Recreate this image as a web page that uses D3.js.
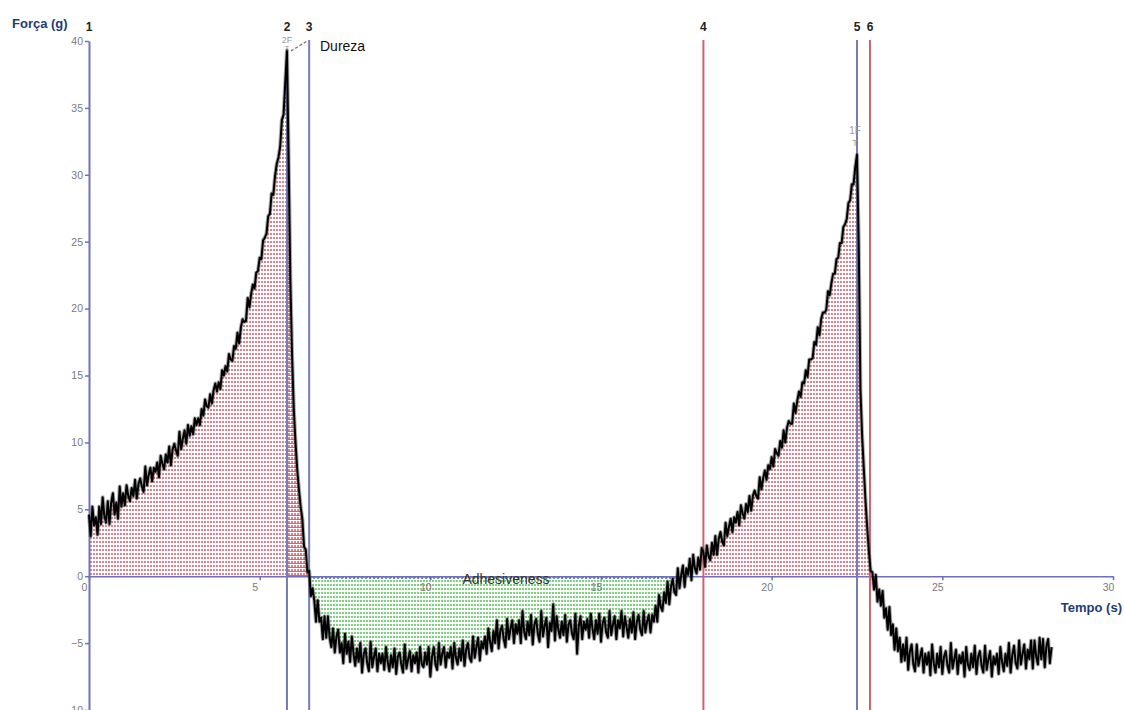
<!DOCTYPE html>
<html><head><meta charset="utf-8">
<script src="https://cdn.jsdelivr.net/npm/d3@7"></script>
<style>
html,body{margin:0;padding:0;background:#fff;}
svg{display:block;font-family:"Liberation Sans",Arial,sans-serif;}
</style></head>
<body>
<svg id="chart" width="1124" height="710"></svg>
<script>
// ---- data ----
const sampleStep = 0.05; // s between samples
const segmentStarts = [0, 6.6, 18.0, 22.55];
// first compression + drop (t = 0.00 .. 6.55)
const forceCompression1 = [
  4.6,3.0,5.2,3.8,4.4,3.1,5.2,3.9,5.9,4.5,
  4.0,5.6,3.9,5.5,6.2,4.6,5.5,4.3,6.7,5.2,
  6.2,5.3,6.8,6.0,5.6,6.6,6.0,7.2,5.8,6.9,
  7.3,6.7,6.3,8.2,6.8,7.6,8.1,7.1,8.1,7.8,
  8.5,7.4,9.0,8.4,8.0,9.1,8.5,9.7,8.3,9.5,
  9.9,9.4,9.0,10.8,9.5,10.3,10.9,9.9,11.3,10.5,
  11.2,10.6,11.8,11.3,11.8,11.3,12.5,12.0,13.2,12.7,
  12.6,13.6,12.9,13.9,14.4,13.8,14.5,14.0,15.4,15.0,
  15.7,15.3,16.6,16.2,16.1,17.2,17.0,18.2,17.4,18.6,
  19.2,19.0,19.1,20.8,20.1,21.1,21.8,21.5,22.7,22.8,
  23.8,23.7,25.1,25.3,25.6,26.9,27.1,28.6,28.5,29.9,
  30.8,31.3,32.1,34.1,34.5,36.9,39.3,
  31.0,22.0,16.5,12.5,10.0,8.0,6.5,5.2,4.3,2.2,2.0,0.3,0.4,-1.5,-0.9];
// adhesion phase (t = 6.60 .. 17.95)
const forceAdhesion = [
  -1.8,-3.4,-1.8,-3.4,-3.1,-4.7,-3.0,-4.6,-3.0,-4.6,
  -5.3,-3.9,-5.7,-4.5,-4.0,-5.7,-5.0,-6.5,-4.3,-5.8,
  -4.9,-6.4,-4.5,-5.8,-6.7,-5.4,-6.4,-5.0,-7.2,-5.8,
  -5.4,-6.5,-7.1,-4.9,-6.8,-6.0,-5.4,-7.1,-5.8,-6.5,
  -5.8,-7.0,-5.3,-6.4,-7.1,-5.9,-6.8,-5.4,-7.3,-6.0,
  -5.7,-6.6,-7.2,-5.1,-6.9,-6.2,-5.6,-7.1,-5.9,-6.5,
  -5.7,-7.2,-5.3,-6.6,-6.8,-5.7,-6.6,-5.3,-7.5,-6.0,
  -5.3,-6.6,-7.0,-5.0,-6.6,-5.8,-5.3,-6.8,-5.7,-6.1,
  -5.3,-6.9,-5.0,-6.1,-6.6,-5.4,-6.3,-4.8,-6.7,-5.5,
  -5.0,-6.1,-6.4,-4.5,-6.1,-5.3,-4.6,-6.3,-4.9,-5.4,
  -4.5,-5.8,-3.9,-4.9,-5.6,-4.1,-5.0,-3.3,-5.4,-4.1,
  -3.7,-4.7,-5.3,-3.2,-4.7,-3.9,-3.3,-5.0,-3.6,-4.3,
  -3.3,-5.0,-2.6,-4.2,-4.7,-3.4,-4.4,-2.9,-5.1,-3.6,
  -3.2,-4.3,-4.9,-2.6,-4.5,-3.7,-3.1,-5.3,-3.5,-4.1,
  -2.1,-4.8,-3.0,-4.0,-4.6,-3.4,-4.4,-2.9,-4.9,-3.6,
  -3.3,-4.3,-4.7,-2.8,-5.8,-3.7,-3.0,-4.7,-3.4,-4.0,
  -3.2,-4.6,-2.8,-3.9,-4.7,-3.3,-4.3,-2.8,-4.9,-3.5,
  -3.1,-4.2,-4.6,-2.6,-4.4,-3.6,-3.0,-4.7,-3.3,-3.9,
  -2.6,-4.5,-3.0,-3.8,-4.6,-3.2,-4.2,-2.7,-4.7,-3.4,
  -2.9,-4.0,-4.4,-2.6,-4.2,-3.4,-2.9,-4.2,-2.9,-3.4,
  -2.2,-3.4,-1.4,-2.3,-2.6,-1.2,-2.0,-0.4,-2.1,-0.8,
  -0.2,-1.2,-1.4,0.6,-0.9,0.1,0.8,-0.8,0.6,0.1,
  1.3,-0.3,1.6,0.6,0.2,1.4,0.5,2.1];
// second compression (t = 18.00 .. 22.50)
const forceCompression2 = [
  1.8,0.7,2.3,1.5,1.2,2.5,1.6,3.0,1.6,2.8,
  3.3,2.6,2.3,4.0,3.0,3.7,4.3,3.3,4.4,4.0,
  4.8,3.8,5.3,4.7,4.3,5.4,4.8,6.0,4.9,6.0,
  6.4,6.0,5.8,7.4,6.5,7.3,7.9,7.2,8.3,8.0,
  8.9,8.2,9.5,9.2,9.0,10.1,9.6,10.9,10.0,11.1,
  11.6,11.4,11.4,12.9,12.2,13.1,13.8,13.4,14.5,14.4,
  15.4,14.9,16.2,16.2,16.3,17.5,17.3,18.6,18.0,19.2,
  19.7,19.7,19.9,21.3,21.0,21.9,22.6,22.6,23.7,23.8,
  24.9,24.9,26.1,26.3,26.7,27.9,28.1,29.3,29.3,30.6,
  31.5];
// drop + second adhesion (t = 22.55 .. 28.20)
const forceDecay = [
  25.0,14.0,10.5,8.0,5.6,3.6,1.8,0.4,0.3,-1.0,
  0.1,-1.9,-1.0,-2.2,-1.1,-3.1,-2.4,-4.0,-2.3,-4.4,
  -3.6,-5.5,-3.9,-5.6,-4.6,-6.4,-5.1,-6.3,-4.6,-7.0,
  -5.6,-5.1,-6.6,-7.1,-5.1,-6.7,-6.0,-5.4,-7.2,-5.8,
  -6.6,-5.7,-7.4,-5.1,-6.5,-7.2,-5.8,-6.8,-5.3,-7.3,
  -6.0,-5.6,-6.7,-7.2,-5.0,-6.9,-6.2,-5.5,-7.3,-5.9,
  -6.5,-5.7,-7.5,-5.3,-6.6,-7.0,-5.8,-6.8,-5.2,-7.3,
  -6.0,-5.6,-6.7,-7.2,-5.2,-7.0,-6.2,-5.6,-7.5,-6.0,
  -6.6,-5.8,-7.3,-5.3,-6.4,-7.1,-5.8,-6.7,-5.0,-7.2,
  -5.9,-5.2,-6.5,-6.9,-4.8,-6.6,-5.8,-5.1,-6.9,-5.5,
  -6.2,-4.8,-6.9,-4.8,-6.0,-6.6,-4.6,-6.2,-4.7,-6.8,
  -5.2,-4.7,-6.5,-5.3];

const xTicks = [0,5,10,15,20,25,30];
const yTicks = [-10,-5,0,5,10,15,20,25,30,35,40];
const markerLabels = ["1","2","3","4","5","6"];
const markerTimes = [0, 5.8, 6.45, 18.0, 22.5, 22.88];
const markerKinds = ["blue","blue","blue","red","blue","red"];
const hardnessPeak = {label:"2F", t:5.8};
const secondPeak = {label:"1F", t:22.5, f:31.5};
const redRegions = [[0,6.45],[18.0,22.9]];
const greenRegion = [6.45,17.95];
const adhesionTopEnd = 17.2;

// ---- build series ----
const segments = [forceCompression1, forceAdhesion, forceCompression2, forceDecay];
const data = [];
segments.forEach((seg,si)=>seg.forEach((v,i)=>data.push({t:+(segmentStarts[si]+i*sampleStep).toFixed(3), f:v})));

// ---- scales ----
const svg = d3.select("#chart");
const x = d3.scaleLinear().domain([0,30]).range([89,1113]);
const y = d3.scaleLinear().domain([-10,40]).range([710,41]);

const defs = svg.append("defs");
const rp = defs.append("pattern").attr("id","redPat").attr("patternUnits","userSpaceOnUse").attr("width",3).attr("height",4);
rp.append("rect").attr("x",0).attr("y",1).attr("width",2).attr("height",2).attr("fill","#e3808d");
const rp2 = defs.append("pattern").attr("id","redPat2").attr("patternUnits","userSpaceOnUse").attr("width",3).attr("height",4);
rp2.append("rect").attr("x",0).attr("y",3).attr("width",3).attr("height",1).attr("fill","#d83a4a");
const gp = defs.append("pattern").attr("id","greenPat").attr("patternUnits","userSpaceOnUse").attr("width",3).attr("height",4);
gp.append("rect").attr("x",0).attr("y",0).attr("width",2).attr("height",2).attr("fill","#7cd27c");

// ---- fills ----
const areaPos = d3.area().x(d=>x(d.t)).y0(y(0)).y1(d=>y(Math.max(d.f,0)));
const areaNeg = d3.area().x(d=>x(d.t)).y0(y(0)).y1(d=>y(Math.min(d.f,0)));
redRegions.forEach(([a,b])=>{
  const pts = data.filter(d=>d.t>=a-1e-6 && d.t<=b+1e-6);
  svg.append("path").datum(pts).attr("d",areaPos).attr("fill","url(#redPat)");
});
// denser strip between markers 2 and 3
svg.append("path").datum(data.filter(d=>d.t>=markerTimes[1]-1e-6 && d.t<=markerTimes[2]+1e-6)).attr("d",areaPos).attr("fill","url(#redPat2)").attr("opacity",0.8);
svg.append("path").datum(data.filter(d=>d.t>=greenRegion[0] && d.t<=greenRegion[1])).attr("d",areaNeg).attr("fill","url(#greenPat)");

// ---- axes ----
const yAxis = svg.append("g").attr("transform",`translate(${x(0)},0)`)
  .call(d3.axisLeft(y).tickValues(yTicks).tickSize(4).tickSizeOuter(0).tickPadding(2));
yAxis.select(".domain").attr("stroke","#7272b6").attr("stroke-width",2);
yAxis.selectAll(".tick line").attr("stroke","#7272b6").attr("stroke-width",1.5);
yAxis.selectAll(".tick text").attr("fill","#7a7a7a").attr("font-size",10.5).attr("font-family","Liberation Sans, Arial");

const xAxis = svg.append("g").attr("transform",`translate(0,${y(0)})`)
  .call(d3.axisBottom(x).tickValues(xTicks).tickSize(4).tickSizeOuter(0).tickPadding(3));
xAxis.select(".domain").attr("stroke","#6e6ebe").attr("stroke-width",1.6);
xAxis.selectAll(".tick line").attr("stroke","#6e6ebe").attr("stroke-width",1.5);
xAxis.selectAll(".tick text").attr("fill","#7a7a7a").attr("font-size",10.5).attr("dx",-5).attr("font-family","Liberation Sans, Arial");

// dotted top of adhesion area
svg.append("line").attr("x1",x(greenRegion[0])).attr("x2",x(adhesionTopEnd))
  .attr("y1",y(0)+2).attr("y2",y(0)+2).attr("stroke","#3c5a78").attr("stroke-width",1.2).attr("stroke-dasharray","2,2");

// ---- marker lines ----
markerTimes.forEach((t,i)=>{
  if(i===0) return;
  const top = i===1 ? 52 : 40;
  svg.append("line").attr("x1",x(t)).attr("x2",x(t)).attr("y1",top).attr("y2",710)
    .attr("stroke", markerKinds[i]==="blue" ? "#7a7ab8" : "#d4606e").attr("stroke-width",2);
});
markerTimes.forEach((t,i)=>{
  svg.append("text").attr("x",x(t)).attr("y",31).attr("text-anchor","middle")
    .attr("font-size",12).attr("font-weight","bold").attr("fill","#222").text(markerLabels[i]);
});

// ---- trace ----
const line = d3.line().x(d=>x(d.t)).y(d=>y(d.f));
svg.append("path").datum(data).attr("d",line).attr("fill","none").attr("stroke","#444").attr("stroke-width",4).attr("stroke-opacity",0.45).attr("stroke-linejoin","round");
svg.append("path").datum(data).attr("d",line).attr("fill","none").attr("stroke","#000").attr("stroke-width",2).attr("stroke-linejoin","round");

// ---- peak annotations ----
svg.append("text").attr("x",x(hardnessPeak.t)).attr("y",43).attr("text-anchor","middle").attr("font-size",9).attr("fill","#9a9a9a").text(hardnessPeak.label);
svg.append("text").attr("x",x(hardnessPeak.t)).attr("y",51).attr("text-anchor","middle").attr("font-size",8).attr("fill","#9a9a9a").text("T");
svg.append("line").attr("x1",x(hardnessPeak.t)+4).attr("y1",51).attr("x2",x(markerTimes[2])-2).attr("y2",41)
  .attr("stroke","#777").attr("stroke-width",1.3).attr("stroke-dasharray","3,2");
svg.append("text").attr("x",320).attr("y",51).attr("font-size",14).attr("fill","#111").text("Dureza");
svg.append("text").attr("x",x(secondPeak.t)-2).attr("y",y(secondPeak.f)-21).attr("text-anchor","middle").attr("font-size",10).attr("fill","#9a9a9a").text(secondPeak.label);
svg.append("text").attr("x",x(secondPeak.t)-2).attr("y",y(secondPeak.f)-9).attr("text-anchor","middle").attr("font-size",9).attr("fill","#9a9a9a").text("T");

svg.append("text").attr("x",506).attr("y",y(0)+8).attr("text-anchor","middle")
  .attr("font-size",14).attr("fill","#333").text("Adhesiveness");

// ---- axis titles ----
svg.append("text").attr("x",12).attr("y",28).attr("font-size",13).attr("font-weight","bold").attr("fill","#1e3a78").text("Força (g)");
svg.append("text").attr("x",1122).attr("y",612).attr("text-anchor","end").attr("font-size",13).attr("font-weight","bold").attr("fill","#1e3a78").text("Tempo (s)");
</script>
</body></html>
